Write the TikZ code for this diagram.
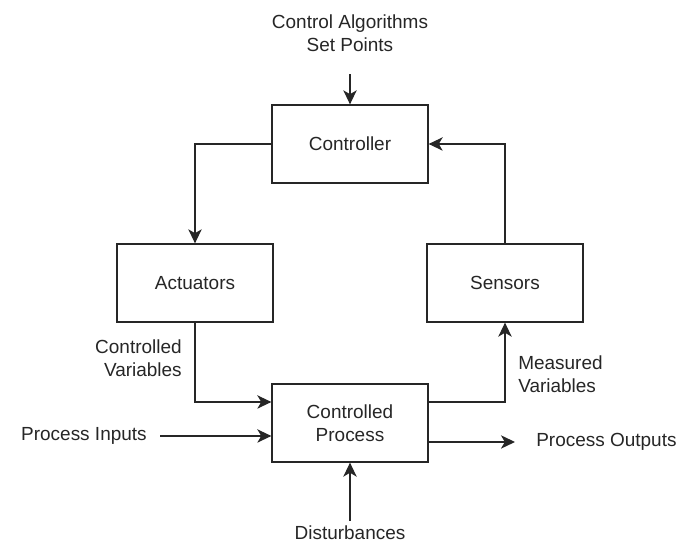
\documentclass[tikz,border=0pt]{standalone}
\usepackage{fontspec}
\setmainfont{Liberation Sans}
\usetikzlibrary{arrows.meta}

\begin{document}
\begin{tikzpicture}[
		box/.style={draw, line width=0.9pt, minimum width=3.9cm, minimum height=1.95cm, align=center},
		lbl/.style={inner sep=0pt},
		flow/.style={draw, line width=0.9pt, -{Stealth[length=10pt, width=9.5pt, inset=2.8pt]}},
		font=\fontsize{13.5pt}{16.4pt}\selectfont, color=black!85]
		\useasboundingbox (0,0) rectangle (17.225,13.575) ;

		% the four blocks of the loop
		\node[box] (ctrl) at (8.75,9.975) {Controller} ;
		\node[box] (act) at (4.875,6.5) {Actuators} ;
		\node[box] (sens) at (12.625,6.5) {Sensors} ;
		\node[box] (proc) at (8.75,3.0) {Controlled\\Process} ;

		% texts round the loop
		\node[lbl, align=center] (setp) at (8.75,12.7375) {Control Algorithms\\Set Points} ;
		\node[lbl, anchor=east, align=right] (cvar) at (4.55,4.6125) {Controlled\\Variables} ;
		\node[lbl, anchor=west, align=left] (mvar) at (12.95,4.225) {Measured\\Variables} ;
		\node[lbl, anchor=east] (pin) at (3.675,2.675) {Process Inputs} ;
		\node[lbl, anchor=west] (pout) at (13.4,2.525) {Process Outputs} ;
		\node[lbl] (dist) at (8.75,0.26) {Disturbances} ;

		% loop
		\draw[flow] (ctrl.west) -| (act.north) ;
		\draw[flow] (act.south) |- ([yshift=0.525cm]proc.west) ;
		\draw[flow] ([yshift=0.525cm]proc.east) -| (sens.south) ;
		\draw[flow] (sens.north) |- (ctrl.east) ;

		% inputs and outputs
		\draw[flow, shorten <=0.55cm] (setp.south) -- (ctrl.north) ;
		\draw[flow, shorten <=0.325cm] (pin.east) -- ([yshift=-0.325cm]proc.west) ;
		\draw[flow, shorten >=0.525cm] ([yshift=-0.475cm]proc.east) -- (pout.west) ;
		\draw[flow, shorten <=0.12cm] (dist.north) -- (proc.south) ;
	\end{tikzpicture}
\end{document}
